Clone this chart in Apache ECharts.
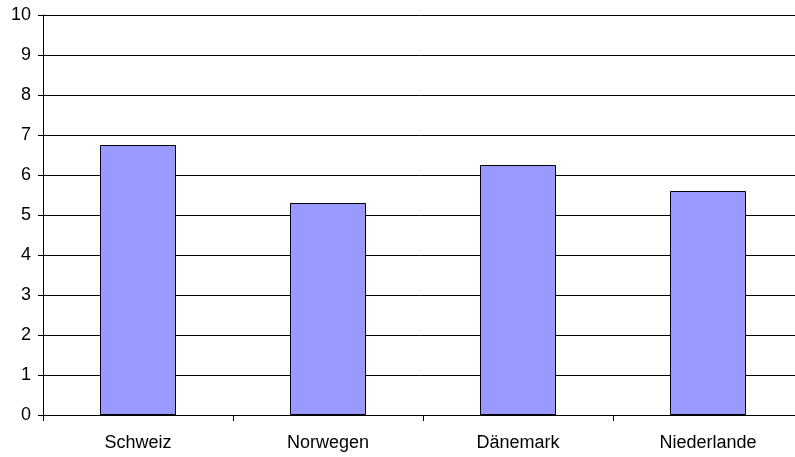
<!DOCTYPE html>
<html>
<head>
<meta charset="utf-8">
<script src="https://cdn.jsdelivr.net/npm/echarts@6/dist/echarts.min.js"></script>
<style>
  html, body { margin: 0; padding: 0; background: #fff; }
  #chart { width: 795px; height: 457px; }
</style>
</head>
<body>
<div id="chart"></div>
<script>
// Countries and their values
const categories = ['Schweiz', 'Norwegen', 'Dänemark', 'Niederlande'];
const values = [6.75, 5.3, 6.25, 5.6];
const yTicks = [0, 1, 2, 3, 4, 5, 6, 7, 8, 9, 10];

const chart = echarts.init(document.getElementById('chart'), null, { renderer: 'canvas' });

const font = { fontFamily: '"Liberation Sans", Arial, sans-serif', fontSize: 18, color: '#000' };

chart.setOption({
  animation: false,
  backgroundColor: '#fff',
  // plot area runs a little past the right edge of the canvas
  grid: { left: 43, width: 760, top: 15, height: 400, containLabel: false, outerBoundsMode: 'none' },
  xAxis: {
    type: 'category',
    data: categories,
    boundaryGap: true,
    axisLine: { show: true, lineStyle: { color: '#000', width: 1 } },
    axisTick: { show: true, alignWithLabel: false, length: 6, lineStyle: { color: '#000' } },
    axisLabel: Object.assign({ margin: 19 }, font),
    splitLine: { show: false }
  },
  yAxis: {
    type: 'value',
    min: yTicks[0],
    max: yTicks[yTicks.length - 1],
    interval: 1,
    axisLine: { show: true, lineStyle: { color: '#000', width: 1 } },
    axisTick: { show: true, length: 5, lineStyle: { color: '#000' } },
    axisLabel: Object.assign({ margin: 12 }, font),
    splitLine: { show: true, lineStyle: { color: '#000', width: 1 } }
  },
  series: [{
    type: 'bar',
    data: values,
    barWidth: '40%',
    itemStyle: { color: '#9999FF', borderColor: '#000', borderWidth: 1 }
  }]
});
</script>
</body>
</html>
